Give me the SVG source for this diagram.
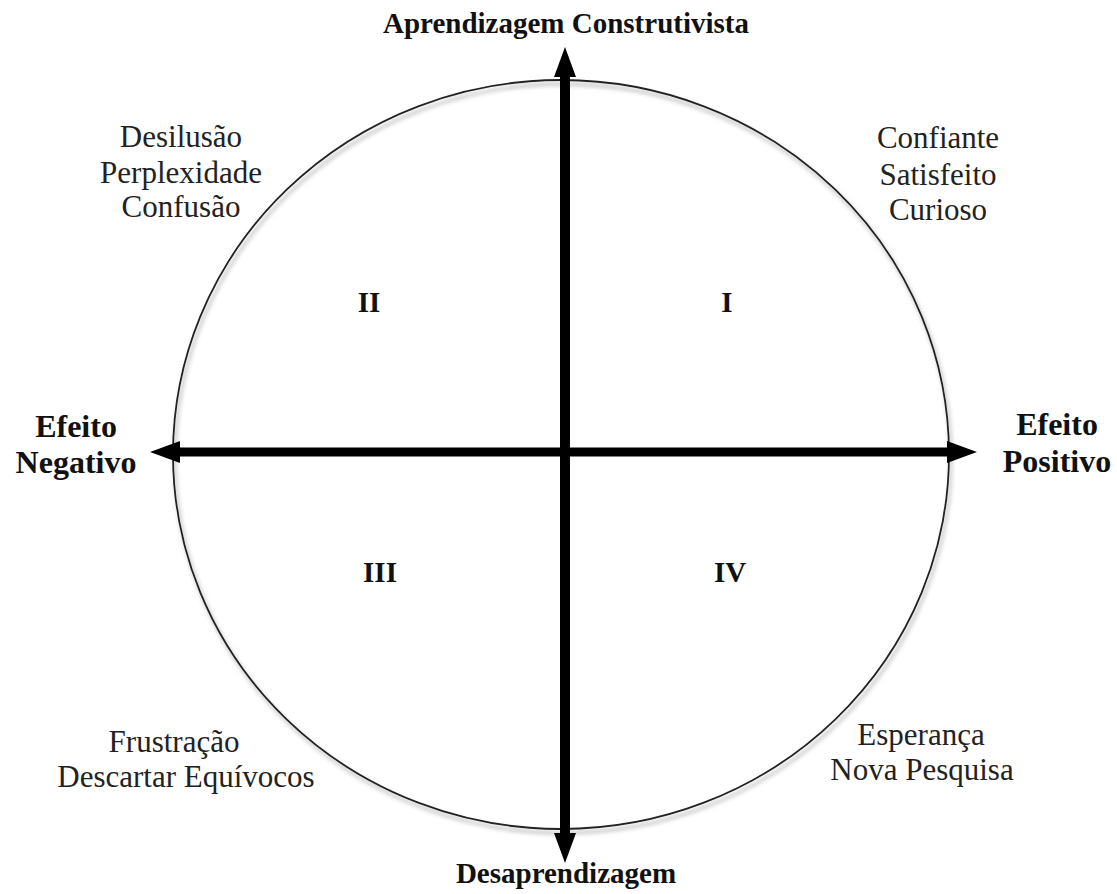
<svg xmlns="http://www.w3.org/2000/svg" width="1117" height="894" viewBox="0 0 1117 894">
  <style>
    .axis-title { font-family: "Liberation Serif", "Times New Roman", serif; font-weight: bold; font-size: 29px; fill: #111; text-anchor: middle; }
    .side { font-family: "Liberation Serif", "Times New Roman", serif; font-weight: bold; font-size: 32px; fill: #111; text-anchor: middle; }
    .mood { font-family: "Liberation Serif", "Times New Roman", serif; font-size: 31px; fill: #222; text-anchor: middle; }
    .num { font-family: "Liberation Serif", "Times New Roman", serif; font-weight: bold; font-size: 29px; fill: #111; text-anchor: middle; }
    .axis { stroke: #000; fill: none; marker-start: url(#head); marker-end: url(#head); }
  </style>
  <defs>
    <marker id="head" viewBox="0 0 30 22" refX="0" refY="11" markerWidth="30" markerHeight="22" markerUnits="userSpaceOnUse" orient="auto-start-reverse">
      <path d="M0,0 L30,11 L0,22 z" fill="#000"/>
    </marker>
    <filter id="soft-shadow" x="-5%" y="-5%" width="112%" height="112%">
      <feDropShadow dx="2" dy="4" stdDeviation="2" flood-color="#777" flood-opacity="0.7"/>
    </filter>
  </defs>

  <rect width="1117" height="894" fill="#fff"/>

  <!-- outer circle -->
  <g id="circle">
    <ellipse cx="561" cy="454.5" rx="388" ry="374.5" fill="none" stroke="#222" stroke-width="1.8" filter="url(#soft-shadow)"/>
  </g>

  <!-- the two axes -->
  <g id="connectors">
    <line class="axis" x1="565" y1="77" x2="565" y2="833" stroke-width="10"/>
    <line class="axis" x1="180" y1="452" x2="947" y2="452" stroke-width="9"/>
  </g>

  <g id="top-label">
    <text class="axis-title" x="566" y="33">Aprendizagem Construtivista</text>
  </g>
  <g id="bottom-label">
    <text class="axis-title" x="566" y="883">Desaprendizagem</text>
  </g>
  <g id="left-label">
    <text class="side" x="76" y="437">Efeito</text>
    <text class="side" x="76" y="473">Negativo</text>
  </g>
  <g id="right-label">
    <text class="side" x="1057" y="435">Efeito</text>
    <text class="side" x="1057" y="472">Positivo</text>
  </g>

  <g id="quadrant-1">
    <text class="num" x="727" y="312">I</text>
    <text class="mood" x="938" y="148">Confiante</text>
    <text class="mood" x="938" y="185">Satisfeito</text>
    <text class="mood" x="938" y="220">Curioso</text>
  </g>
  <g id="quadrant-2">
    <text class="num" x="369" y="312">II</text>
    <text class="mood" x="181" y="147">Desilusão</text>
    <text class="mood" x="181" y="183">Perplexidade</text>
    <text class="mood" x="181" y="217">Confusão</text>
  </g>
  <g id="quadrant-3">
    <text class="num" x="380" y="582">III</text>
    <text class="mood" x="174" y="752">Frustração</text>
    <text class="mood" x="186" y="787">Descartar Equívocos</text>
  </g>
  <g id="quadrant-4">
    <text class="num" x="730" y="582">IV</text>
    <text class="mood" x="921" y="745">Esperança</text>
    <text class="mood" x="922" y="780">Nova Pesquisa</text>
  </g>
</svg>
